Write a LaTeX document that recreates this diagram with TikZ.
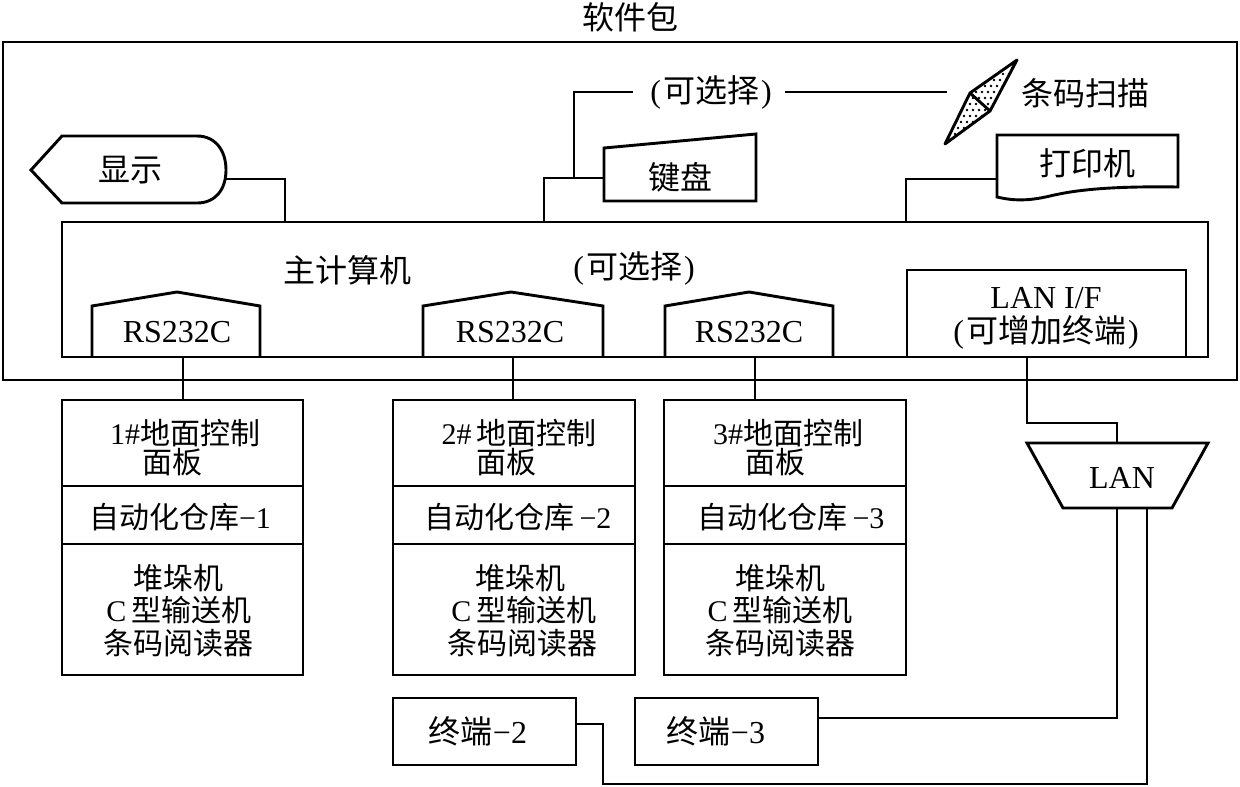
\documentclass[tikz,border=0pt]{standalone}
\usepackage{fontspec}
\setmainfont{Liberation Serif}
\newfontfamily\cjk{Noto Sans CJK SC}
\newcommand{\zh}[1]{{\cjk #1}}
\tikzset{
  ln/.style={line width=2.9pt},
  box/.style={draw, line width=2.9pt, inner sep=0pt},
  txt/.style={inner sep=0pt, font=\fontsize{32}{34}\selectfont},
  utxt/.style={inner sep=0pt, font=\fontsize{30}{32}\selectfont},
}
\begin{document}
\begin{tikzpicture}[x=1pt,y=-1pt]
\useasboundingbox (0,0) rectangle (1240,787);
% outer frame
\node[box, minimum width=1234pt, minimum height=338pt] (frame) at (620,211) {};
\node[txt] (title) at (630,17) {\zh{软件包}};
% host computer
\node[box, minimum width=1146pt, minimum height=135pt] (host) at (635,289.5) {};
\node[txt] (hostlbl) at (347,270) {\zh{主计算机}};
\node[txt] (opt1) at (634,268) {(\kern2pt\zh{可选择}\kern2pt)};
% LAN I/F
\node[box, minimum width=279pt, minimum height=87pt] (lanif) at (1046.5,313.5) {};
\node[txt] (laniflbl1) at (1046,298) {LAN I/F};
\node[txt] (laniflbl2) at (1046,332) {(\kern2pt\zh{可增加终端}\kern2pt)};
% RS232C ports
\draw[ln] (92,357) -- (92,306) -- (177,292) -- (260,306) -- (260,357);
\node[txt] (rs1) at (177,332) {RS232C};
\draw[ln] (423,357) -- (423,306) -- (511,292) -- (603,306) -- (603,357);
\node[txt] (rs2) at (510,332) {RS232C};
\draw[ln] (665,357) -- (665,306) -- (749,292) -- (833,306) -- (833,357);
\node[txt] (rs3) at (749,332) {RS232C};
\coordinate (rs1b) at (183,357);
\coordinate (rs2b) at (513,357);
\coordinate (rs3b) at (755,357);
% display
\draw[ln] (31,170) -- (62,136) -- (197,136) .. controls (215,136) and (226,150) .. (226,170) .. controls (226,190) and (215,203) .. (197,203) -- (62,203) -- cycle;
\node[txt] (disp) at (130,170) {\zh{显示}};
\coordinate (dispr) at (225,179);
\draw[ln] (dispr) -- (285,179) -- (285,222);
% keyboard
\draw[ln] (604,201) -- (604,148) -- (756,134) -- (756,201) -- cycle;
\node[txt] (kbd) at (680,177) {\zh{键盘}};
\coordinate (kbdl) at (604,178);
\draw[ln] (kbdl) -- (544,178) -- (544,222);
\draw[ln] (574,178) -- (574,92) -- (633,92);
\node[txt] (opt2) at (711,92) {(\kern2pt\zh{可选择}\kern2pt)};
\draw[ln] (785,92) -- (947,92);
% barcode scanner
\begin{scope}
\clip (1017,60) -- (970,93) -- (945,144) -- (990,111) -- cycle;
\foreach \i in {0,...,14} {
  \foreach \j in {0,...,15} {
    \fill ({940+\i*6+mod(\j,2)*3},{56+\j*6}) circle (1.3pt);
  }
}
\end{scope}
\draw[ln, line join=round] (1017,60) -- (970,93) -- (945,144) -- (990,111) -- cycle;
\draw[ln] (970,93) -- (990,111);
\node[txt] (scan) at (1085,93) {\zh{条码扫描}};
% printer
\draw[ln] (997,135) -- (1178,135) -- (1178,187) .. controls (1110,186) and (1075,190) .. (1050,196) .. controls (1025,202) and (1010,200) .. (997,197) -- cycle;
\node[txt] (prn) at (1087,163) {\zh{打印机}};
\coordinate (prnl) at (997,179);
\draw[ln] (prnl) -- (906,179) -- (906,222);
% unit 1
\node[box, minimum width=241pt, minimum height=86pt] (u1a) at (182.5,443) {};
\node[box, minimum width=241pt, minimum height=58pt] (u1b) at (182.5,515) {};
\node[box, minimum width=241pt, minimum height=131pt] (u1c) at (182.5,609.5) {};
\node[utxt] at (185,433) {1\#\zh{地面控制}};
\node[utxt] at (172,462) {\zh{面板}};
\node[utxt] at (180,517) {\zh{自动化仓库}−1};
\node[utxt] at (178,578) {\zh{堆垛机}};
\node[utxt] at (179,610) {C\,\zh{型输送机}};
\node[utxt] at (178,643) {\zh{条码阅读器}};
% unit 2
\node[box, minimum width=242pt, minimum height=86pt] (u2a) at (514,443) {};
\node[box, minimum width=242pt, minimum height=58pt] (u2b) at (514,515) {};
\node[box, minimum width=242pt, minimum height=131pt] (u2c) at (514,609.5) {};
\node[utxt] at (519,433) {2\#\,\zh{地面控制}};
\node[utxt] at (506,462) {\zh{面板}};
\node[utxt] at (518,517) {\zh{自动化仓库}\,−2};
\node[utxt] at (520,578) {\zh{堆垛机}};
\node[utxt] at (524,610) {C\,\zh{型输送机}};
\node[utxt] at (522,643) {\zh{条码阅读器}};
% unit 3
\node[box, minimum width=242pt, minimum height=86pt] (u3a) at (785,443) {};
\node[box, minimum width=242pt, minimum height=58pt] (u3b) at (785,515) {};
\node[box, minimum width=242pt, minimum height=131pt] (u3c) at (785,609.5) {};
\node[utxt] at (788,433) {3\#\zh{地面控制}};
\node[utxt] at (775,462) {\zh{面板}};
\node[utxt] at (791,517) {\zh{自动化仓库}\,−3};
\node[utxt] at (780,578) {\zh{堆垛机}};
\node[utxt] at (780,610) {C\,\zh{型输送机}};
\node[utxt] at (780,643) {\zh{条码阅读器}};
% port connectors
\draw[ln] (rs1b) -- (rs1b |- u1a.north);
\draw[ln] (rs2b) -- (rs2b |- u2a.north);
\draw[ln] (rs3b) -- (rs3b |- u3a.north);
% LAN
\draw[ln] (1027,443) -- (1208,443) -- (1172,508) -- (1063,508) -- cycle;
\node[txt] (lan) at (1122,478) {LAN};
\coordinate (lantop) at (1117,443);
\coordinate (lanb1) at (1117,508);
\coordinate (lanb2) at (1147,508);
\coordinate (lanifb) at (1027,357);
\draw[ln] (lanifb) -- (1027,423) -- (1117,423) -- (lantop);
% terminals
\node[box, minimum width=183pt, minimum height=67pt] (t2) at (484.5,731.5) {};
\node[txt] at (478,731) {\zh{终端}−2};
\node[box, minimum width=183pt, minimum height=67pt] (t3) at (726.5,731.5) {};
\node[txt] at (716,731) {\zh{终端}−3};
\draw[ln] (lanb1) -- (1117,718) -- (t3.east |- 0,718);
\draw[ln] (lanb2) -- (1147,784) -- (603,784) -- (603,724) -- (t2.east |- 0,724);
\end{tikzpicture}
\end{document}
